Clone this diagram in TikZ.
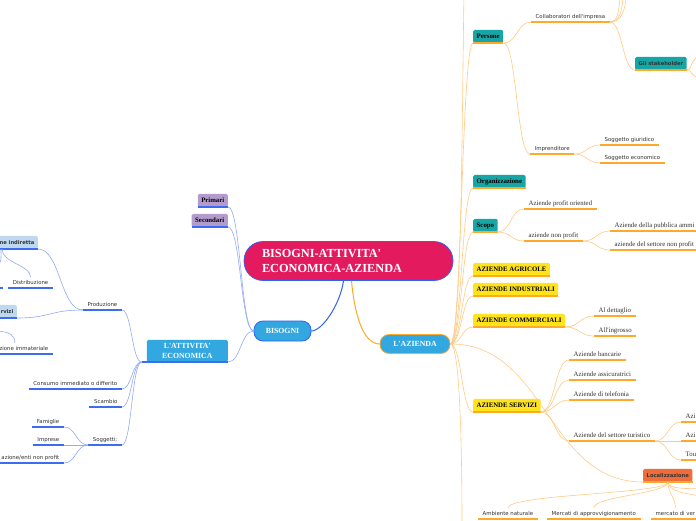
\documentclass[tikz,border=0pt]{standalone}
\usepackage{fontspec}
\setmainfont{Liberation Serif}
\newfontfamily\dvs{DejaVu Sans}
\usetikzlibrary{calc}
\definecolor{crim}{HTML}{E31B5E}
\definecolor{lblue}{HTML}{33A8E0}
\definecolor{pblue}{HTML}{2F62F0}
\definecolor{ublue}{HTML}{3D6CF2}
\definecolor{cblue}{HTML}{92ABF7}
\definecolor{uorange}{HTML}{FFA92B}
\definecolor{corange}{HTML}{FFCB85}
\definecolor{tealbox}{HTML}{17A6A6}
\definecolor{ybox}{HTML}{FFE41C}
\definecolor{obox}{HTML}{EE6D3B}
\definecolor{lav}{HTML}{B39BCD}
\definecolor{pbox}{HTML}{BED8F0}
\definecolor{txt}{HTML}{333333}
\tikzset{
 base/.style={inner xsep=4.5, inner ysep=2.5, text height=4.3, text depth=1.3, text=txt},
 sans/.style={font=\dvs\fontsize{5.4}{6}\selectfont},
 serf/.style={font=\fontsize{6.8}{8}\selectfont},
 R/.style={anchor=south west},
 L/.style={anchor=south east},
 ulO/.style={draw=uorange, line width=1.5},
 ulB/.style={draw=ublue, line width=1.5},
 uO/.style={append after command={(\tikzlastnode.south west) edge[ulO] (\tikzlastnode.south east)}},
 uB/.style={append after command={(\tikzlastnode.south west) edge[ulB] (\tikzlastnode.south east)}},
 bx/.style={rounded corners=1.5, inner xsep=3.5, inner ysep=0, minimum height=13, text height=5, text depth=1.4, text=black},
 sbf/.style={font=\bfseries\fontsize{6.8}{8}\selectfont},
 sansbf/.style={font=\dvs\bfseries\fontsize{5.2}{6}\selectfont},
 cO/.style={draw=corange, line width=0.6},
 cB/.style={draw=cblue, line width=0.6},
 hcon/.style={to path={let \p1=(\tikztostart), \p2=(\tikztotarget) in .. controls ({0.5*\x1+0.5*\x2},\y1) and ({0.5*\x1+0.5*\x2},\y2) .. (\tikztotarget)}},
}
\begin{document}
\begin{tikzpicture}[x=1pt,y=-1pt]
\useasboundingbox (0,0) rectangle (696,520);
\fill[white] (0,0) rectangle (696,520);

% ---- central nodes
\node[fill=crim, draw=pblue, line width=0.7, rounded corners=19, minimum width=209, minimum height=39, text width=173, align=left, inner xsep=18, inner ysep=0, font=\bfseries\fontsize{12.3}{15.5}\selectfont, text=white] (root) at (348.5,261) {BISOGNI-ATTIVITA\textquotesingle\\ECONOMICA-AZIENDA};
\node[fill=lblue, draw=pblue, line width=0.8, rounded corners=9, minimum width=57, minimum height=20, inner sep=0, font=\bfseries\fontsize{7.8}{9}\selectfont, text=white] (bis) at (282.5,331) {BISOGNI};
\node[fill=lblue, draw=uorange, line width=0.8, rounded corners=9, minimum width=70, minimum height=19, inner sep=0, font=\bfseries\fontsize{7.8}{9}\selectfont, text=white] (laz) at (415,344) {L\textquotesingle AZIENDA};

% ---- left side
\node[bx, sbf, fill=lav, L, uB] (pri) at (228,207) {Primari};
\node[bx, sbf, fill=lav, L, uB] (sec) at (228,227) {Secondari};
\node[fill=lblue, rounded corners=1.5, minimum width=81, minimum height=22, inner sep=0, align=center, font=\bfseries\fontsize{7.8}{9.5}\selectfont, text=white, L] (att) at (228,362) {L\textquotesingle ATTIVITA\textquotesingle\\ECONOMICA};
\coordinate (attL) at ([xshift=-5]att.south west);
\draw[ulB] (attL) -- (att.south east);

\node[base, sans, L, uB] (prod) at (122,310) {Produzione};
\node[base, sans, L, uB] (cons) at (122,389) {Consumo immediato o differito};
\node[base, sans, L, uB] (sca) at (122,407) {Scambio};
\node[base, sans, L, uB] (sog) at (122,445) {Soggetti;};
\node[base, sans, L, uB] (fam) at (64,427) {Famiglie};
\node[base, sans, L, uB] (imp) at (64,445) {Imprese};
\node[base, sans, L, uB] (enti) at (64,463) {azione/enti non profit};
\node[bx, sansbf, fill=pbox, L, uB, text=txt] (nei) at (38,249) {ne indiretta};
\node[bx, sansbf, fill=pbox, L, uB, text=txt] (rvi) at (17,318) {rvizi};
\node[base, sans, L, uB] (dis) at (53,288) {Distribuzione};
\node[base, sans, L, uB] (imm) at (53,354) {zione immateriale};
\draw[ulB] (-4,288) -- (2.5,288);

\draw[pblue, line width=1] ([xshift=-5]root.south) .. controls (340,305) and (322,331) .. (bis.east);
\draw[cB] (bis.west) to[hcon] (pri.south east);
\draw[cB] (bis.west) to[hcon] (sec.south east);
\draw[cB] (bis.west) to[hcon] (att.south east);
\draw[cB] (attL) to[hcon] (prod.south east);
\draw[cB] (attL) to[hcon] (cons.south east);
\draw[cB] (attL) to[hcon] (sca.south east);
\draw[cB] (attL) to[hcon] (sog.south east);
\draw[cB] (sog.south west) to[hcon] (fam.south east);
\draw[cB] (sog.south west) to[hcon] (imp.south east);
\draw[cB] (sog.south west) to[hcon] (enti.south east);
\draw[cB] (prod.south west) to[hcon] (nei.south east);
\draw[cB] (prod.south west) to[hcon] (rvi.south east);
\draw[cB] ([xshift=6]nei.south west) .. controls ([xshift=6,yshift=-14]nei.south west) and ([yshift=12]dis.north) .. (dis.north);
\draw[cB] ([xshift=5]nei.south west) .. controls ([xshift=5,yshift=-10]nei.south west) and (2,262) .. (-3,266);
\draw[cB] (-3,331) .. controls (10,332) and ([xshift=20,yshift=8]imm.north west) .. ([xshift=20]imm.north west);

% ---- right side
\node[bx, sbf, fill=tealbox, R, uO] (per) at (473,43) {Persone};
\node[base, sans, R, uO] (col) at (531,22) {Collaboratori dell\textquotesingle impresa};
\node[base, sans, R, uO] (ipr) at (530,154) {Imprenditore};
\node[base, sans, R, uO] (sgi) at (600,145) {Soggetto giuridico};
\node[base, sans, R, uO] (sec2) at (600,163) {Soggetto economico};
\node[bx, sansbf, fill=tealbox, R, uO, text=txt] (stk) at (635,70) {Gli stakeholder};
\node[bx, sbf, fill=tealbox, R, uO] (org) at (473,188) {Organizzazione};
\node[bx, sbf, fill=tealbox, R, uO] (sco) at (473,232) {Scopo};
\node[base, serf, R, uO] (apo) at (524,209) {Aziende profit oriented};
\node[base, serf, R, uO] (anp) at (524,241) {aziende non profit};
\node[base, serf, R, uO] (apa) at (610,231) {Aziende della pubblica ammi};
\node[base, serf, R, uO] (asn) at (610,250) {aziende del settore non profit};
\node[bx, sbf, fill=ybox, R, uO] (agr) at (473,276) {AZIENDE AGRICOLE};
\node[bx, sbf, fill=ybox, R, uO] (ind) at (473,296) {AZIENDE INDUSTRIALI};
\node[bx, sbf, fill=ybox, R, uO] (com) at (473,327) {AZIENDE COMMERCIALI};
\node[base, serf, R, uO] (det) at (594,316) {Al dettaglio};
\node[base, serf, R, uO] (ing) at (594,336) {All\textquotesingle ingrosso};
\node[bx, sbf, fill=ybox, R, uO] (ser) at (473,412) {AZIENDE SERVIZI};
\node[base, serf, R, uO] (ban) at (569,360) {Aziende bancarie};
\node[base, serf, R, uO] (ass) at (569,380) {Aziende assicuratrici};
\node[base, serf, R, uO] (tel) at (569,400) {Aziende di telefonia};
\node[base, serf, R, uO] (tur) at (569,441) {Aziende del settore turistico};
\node[base, serf, R, uO] (t1) at (681,422) {Azi};
\node[base, serf, R, uO] (t2) at (681,441) {Azi};
\node[base, serf, R, uO] (t3) at (681,460) {Tou};
\node[bx, sansbf, fill=obox, R, uO, text=txt] (loc) at (643,482) {Localizzazione};
\node[base, sans, R, uO] (amb) at (478,519) {Ambiente naturale};
\node[base, sans, R, uO] (mer) at (547,519) {Mercati di approvvigionamento};
\node[base, sans, R, uO] (ven) at (651,519) {mercato di ver};
\coordinate (topend) at (464,-5);
\coordinate (botend) at (462,525);

\draw[uorange, line width=1] ([xshift=3]root.south) .. controls (354,310) and (362,344) .. (laz.west);
\draw[cO] (laz.east) .. controls (462,344) and (462,100) .. (topend);
\draw[cO] (laz.east) .. controls (460,344) and (462,450) .. (botend);
\foreach \k in {per,org,sco,agr,ind,com,ser,loc}
  \draw[cO] (laz.east) to[hcon] (\k.south west);
\draw[cO] (per.south east) to[hcon] (col.south west);
\draw[cO] (per.south east) to[hcon] (ipr.south west);
\draw[cO] (ipr.south east) to[hcon] (sgi.south west);
\draw[cO] (ipr.south east) to[hcon] (sec2.south west);
\draw[cO] (col.south east) to[hcon] (stk.south west);
\draw[cO] (col.south east) .. controls (618,22) and (619,10) .. (620,-3);
\draw[cO] (col.south east) .. controls (620,22) and (622,10) .. (623,-3);
\draw[cO] (col.south east) .. controls (622,22) and (625,10) .. (626,-3);
\draw[cO] (stk.south east) .. controls (692,70) and (690,60) .. (700,55);
\draw[cO] (stk.south east) .. controls (692,70) and (690,76) .. (700,78);
\draw[cO] (sco.south east) to[hcon] (apo.south west);
\draw[cO] (sco.south east) to[hcon] (anp.south west);
\draw[cO] (anp.south east) to[hcon] (apa.south west);
\draw[cO] (anp.south east) to[hcon] (asn.south west);
\draw[cO] (com.south east) to[hcon] (det.south west);
\draw[cO] (com.south east) to[hcon] (ing.south west);
\foreach \k in {ban,ass,tel,tur}
  \draw[cO] (ser.south east) to[hcon] (\k.south west);
\foreach \k in {t1,t2,t3}
  \draw[cO] (tur.south east) to[hcon] (\k.south west);
\draw[cO] (loc.south) .. controls ([yshift=-12]loc.south) and ([yshift=14]amb.north) .. (amb.north);
\draw[cO] (loc.south) .. controls ([yshift=-12]loc.south) and ([yshift=12]mer.north) .. (mer.north);
\draw[cO] (loc.south) .. controls ([yshift=-10]loc.south) and ([yshift=10]ven.north) .. (ven.north);
\draw[cO] (loc.south) .. controls (668,490) and (690,488) .. (700,489);
\draw[cO] (loc.south) .. controls (668,492) and (690,494) .. (700,496);
\end{tikzpicture}
\end{document}
